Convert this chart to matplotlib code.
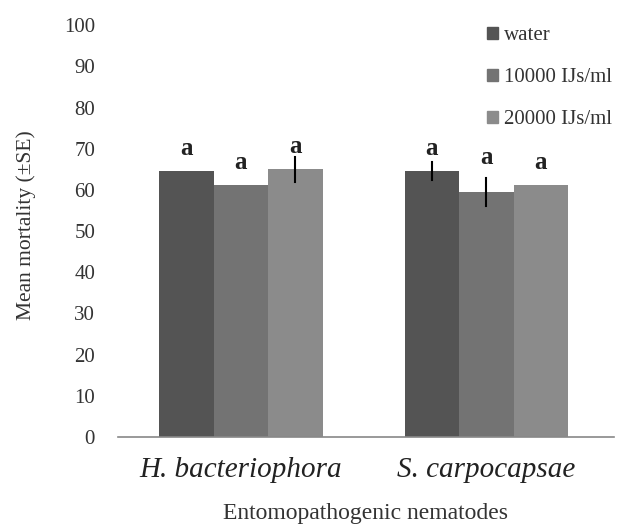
import matplotlib
matplotlib.use('Agg')
import matplotlib.pyplot as plt
from matplotlib.patches import Patch
import numpy as np

# --- data ---
nematodes = ["H. bacteriophora", "S. carpocapsae"]
treatments = ["water", "10000 IJs/ml", "20000 IJs/ml"]
mortality_water = [64.6, 64.6]
mortality_10000 = [61.2, 59.5]
mortality_20000 = [65.0, 61.2]
se_water = [0, 2.2]
se_10000 = [0, 3.3]
se_20000 = [3.0, 0]
letters_water = ["a", "a"]
letters_10000 = ["a", "a"]
letters_20000 = ["a", "a"]

colors = ["#545454", "#737373", "#8b8b8b"]
serif = "Liberation Serif"

fig = plt.figure(figsize=(6.3, 5.24), dpi=100)
ax = fig.add_axes([0.1873, 0.166, 0.7873, 0.786])

x = np.arange(len(nematodes))
width = 0.222
series = [
    (mortality_water, se_water, letters_water),
    (mortality_10000, se_10000, letters_10000),
    (mortality_20000, se_20000, letters_20000),
]
for i, (vals, errs, lets) in enumerate(series):
    pos = x + (i - 1) * width
    ax.bar(pos, vals, width, color=colors[i], label=treatments[i], zorder=2)
    for p, v, e, l in zip(pos, vals, errs, lets):
        if e > 0:
            ax.plot([p, p], [v - e, v + e], color="black", lw=1.5, zorder=3)
        # letters sit just above the bar, pushed up only by long error bars
        ly = v + 5.5 if e < 3.1 else v + e + 5
        ax.text(p, ly, l, ha="center", va="center", fontsize=18,
                fontweight="bold", fontfamily=serif, color="#222222", zorder=1)

ax.set_xlim(-0.5, 1.52)
ax.set_ylim(0, 100)
ax.set_yticks(np.arange(0, 101, 10))
ax.set_xticks(x)
ax.set_xticklabels(nematodes, fontsize=21, fontstyle="italic", fontfamily=serif,
                   color="#222222")
for lab in ax.get_yticklabels():
    lab.set_fontfamily(serif)
    lab.set_fontsize(15)
    lab.set_color("#333333")
ax.tick_params(axis="y", left=False, pad=13)
ax.tick_params(axis="x", bottom=False, pad=11)

for s in ["top", "right", "left"]:
    ax.spines[s].set_visible(False)
ax.spines["bottom"].set_color("#888888")
ax.spines["bottom"].set_linewidth(1.2)

ax.set_ylabel("Mean mortality (\u00b1SE)", fontsize=15.5, fontfamily=serif,
              color="#333333")
ax.yaxis.set_label_coords(-0.165, 0.515)
ax.set_xlabel("Entomopathogenic nematodes", fontsize=17, fontfamily=serif,
              color="#333333", labelpad=14)

handles = [Patch(color=c) for c in colors]
fig.legend(handles, treatments, loc="upper left", bbox_to_anchor=(0.757, 0.97),
           frameon=False, prop={"family": serif, "size": 15},
           handlelength=0.5, handleheight=0.5, handletextpad=0.3,
           labelspacing=1.1, borderpad=0, labelcolor="#333333")

fig.savefig("out.png", dpi=100)
